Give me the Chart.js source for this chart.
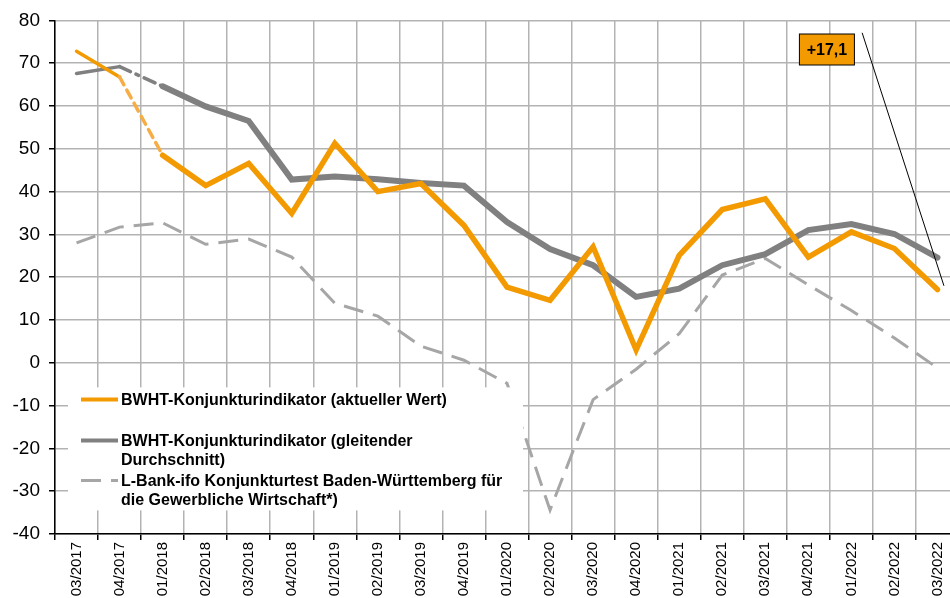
<!DOCTYPE html>
<html lang="de">
<head>
<meta charset="UTF-8">
<title>BWHT-Konjunkturindikator</title>
<script src="https://cdn.jsdelivr.net/npm/chart.js@4"></script>
<style>
  html, body { margin: 0; padding: 0; background: #fff; overflow: hidden; }
  #wrap { width: 960px; height: 598px; }
</style>
</head>
<body>
<div id="wrap"><canvas id="chart" width="960" height="598"></canvas></div>
<script>
// Quartale
const quartale = ['03/2017', '04/2017', '01/2018', '02/2018', '03/2018', '04/2018',
  '01/2019', '02/2019', '03/2019', '04/2019', '01/2020', '02/2020', '03/2020', '04/2020',
  '01/2021', '02/2021', '03/2021', '04/2021', '01/2022', '02/2022', '03/2022'];

// BWHT aktueller Wert
const aktuell = [72.8, 66.8, 48.5, 41.4, 46.6, 34.9, 51.3, 40.0, 41.9, 32.1, 17.7, 14.6,
  27.1, 3.0, 25.1, 35.8, 38.3, 24.7, 30.6, 26.7, 17.1];

// BWHT gleitender Durchschnitt
const gleitend = [67.6, 69.2, 64.6, 59.9, 56.5, 42.8, 43.5, 42.9, 42.0, 41.4, 32.9, 26.6,
  22.8, 15.4, 17.3, 22.8, 25.4, 31.0, 32.4, 30.1, 24.6];

// L-Bank-ifo Konjunkturtest
const lbankIfo = [28.0, 31.7, 32.7, 27.7, 28.9, 24.7, 13.9, 10.9, 3.9, 0.6, -4.8, -34.4,
  -8.6, -1.5, 6.8, 20.5, 24.4, 18.2, 12.2, 5.8, -1.2];

const legendTexte = [
  ['BWHT-Konjunkturindikator (aktueller Wert)'],
  ['BWHT-Konjunkturindikator (gleitender', 'Durchschnitt)'],
  ['L-Bank-ifo Konjunkturtest Baden-Württemberg für', 'die Gewerbliche Wirtschaft*)']
];
const annotationText = '+17,1';

const ORANGE = '#f39a00';
const GRAU = '#808080';
const HELLGRAU = '#a6a6a6';

// Legende im Diagramm (weißer Kasten)
const legendBox = {
  id: 'legendBox',
  afterDatasetsDraw(chart) {
    const { ctx, chartArea: a } = chart;
    const x = a.left, y = a.top;
    ctx.save();
    ctx.fillStyle = '#fff';
    ctx.fillRect(x + 13, y + 367, 455, 123);

    const reihen = [
      { y: 379, color: ORANGE, width: 4, dash: [] },
      { y: 420, color: GRAU, width: 4, dash: [] },
      { y: 460, color: HELLGRAU, width: 3, dash: [20, 10] }
    ];
    reihen.forEach((r, i) => {
      ctx.beginPath();
      ctx.setLineDash(r.dash);
      ctx.strokeStyle = r.color;
      ctx.lineWidth = r.width;
      ctx.moveTo(x + 26, y + r.y);
      ctx.lineTo(x + 63, y + r.y);
      ctx.stroke();
      ctx.setLineDash([]);
      ctx.fillStyle = '#000';
      ctx.font = 'bold 16px "Liberation Sans", Arial, sans-serif';
      ctx.textBaseline = 'middle';
      legendTexte[i].forEach((t, j) => {
        ctx.fillText(t, x + 66, y + r.y + 1 + j * 19);
      });
    });
    ctx.restore();
  }
};

// Hinweis +17,1 mit Linie
const hinweis = {
  id: 'hinweis',
  afterDraw(chart) {
    const { ctx } = chart;
    const xs = chart.scales.x, ys = chart.scales.y;
    ctx.save();
    ctx.beginPath();
    ctx.strokeStyle = '#000';
    ctx.lineWidth = 1;
    ctx.moveTo(xs.getPixelForValue(18.25), ys.getPixelForValue(77.1));
    ctx.lineTo(xs.getPixelForValue(20.15), ys.getPixelForValue(18.0));
    ctx.stroke();

    const cx = xs.getPixelForValue(17.42), cy = ys.getPixelForValue(73.2);
    ctx.fillStyle = ORANGE;
    ctx.fillRect(cx - 27, cy - 15.5, 55, 31);
    ctx.strokeRect(cx - 27, cy - 15.5, 55, 31);
    ctx.fillStyle = '#000';
    ctx.font = 'bold 16px "Liberation Sans", Arial, sans-serif';
    ctx.textAlign = 'center';
    ctx.textBaseline = 'middle';
    ctx.fillText(annotationText, cx + 0.5, cy + 1);
    ctx.restore();
  }
};

const ctx = document.getElementById('chart').getContext('2d');
new Chart(ctx, {
  type: 'line',
  data: {
    labels: quartale,
    datasets: [
      {
        label: 'L-Bank-ifo',
        data: lbankIfo,
        borderColor: HELLGRAU,
        borderWidth: 3,
        borderDash: [20, 10],
        pointRadius: 0,
        tension: 0,
        order: 3
      },
      {
        label: 'gleitender Durchschnitt',
        data: gleitend,
        borderColor: GRAU,
        borderWidth: 6,
        pointRadius: 0,
        tension: 0,
        borderCapStyle: 'round',
        order: 2,
        segment: {
          borderWidth: c => c.p0DataIndex < 2 ? 3.5 : undefined,
          borderDash: c => c.p0DataIndex === 1 ? [12, 6, 3, 6] : undefined
        }
      },
      {
        label: 'aktueller Wert',
        data: aktuell,
        borderColor: ORANGE,
        borderWidth: 5.5,
        pointRadius: 0,
        tension: 0,
        borderCapStyle: 'round',
        order: 1,
        segment: {
          borderWidth: c => c.p0DataIndex < 2 ? 3.5 : undefined,
          borderDash: c => c.p0DataIndex === 1 ? [9, 6] : undefined,
          borderColor: c => c.p0DataIndex === 1 ? '#f6ad45' : undefined
        }
      }
    ]
  },
  options: {
    responsive: false,
    animation: false,
    layout: { padding: { top: 20, right: 1, left: 0, bottom: 0 } },
    plugins: {
      legend: { display: false },
      tooltip: { enabled: false }
    },
    scales: {
      x: {
        offset: true,
        grid: {
          offset: true,
          color: '#b3b3b3',
          lineWidth: 1.5,
          tickLength: 6,
          tickColor: '#000'
        },
        border: { color: '#000', width: 1.5 },
        ticks: {
          autoSkip: false,
          minRotation: 90,
          maxRotation: 90,
          padding: 2,
          color: '#000',
          font: { family: '"Liberation Sans", Arial, sans-serif', size: 15 }
        },
        afterFit: s => { s.height = 64; }
      },
      y: {
        min: -40,
        max: 80,
        grid: {
          color: '#b3b3b3',
          lineWidth: 1.5,
          tickLength: 6,
          tickColor: '#000'
        },
        border: { color: '#000', width: 1.5 },
        ticks: {
          stepSize: 10,
          padding: 9,
          color: '#000',
          font: { family: '"Liberation Sans", Arial, sans-serif', size: 19 }
        },
        afterFit: s => { s.width = 55; }
      }
    }
  },
  plugins: [legendBox, hinweis]
});
</script>
</body>
</html>
